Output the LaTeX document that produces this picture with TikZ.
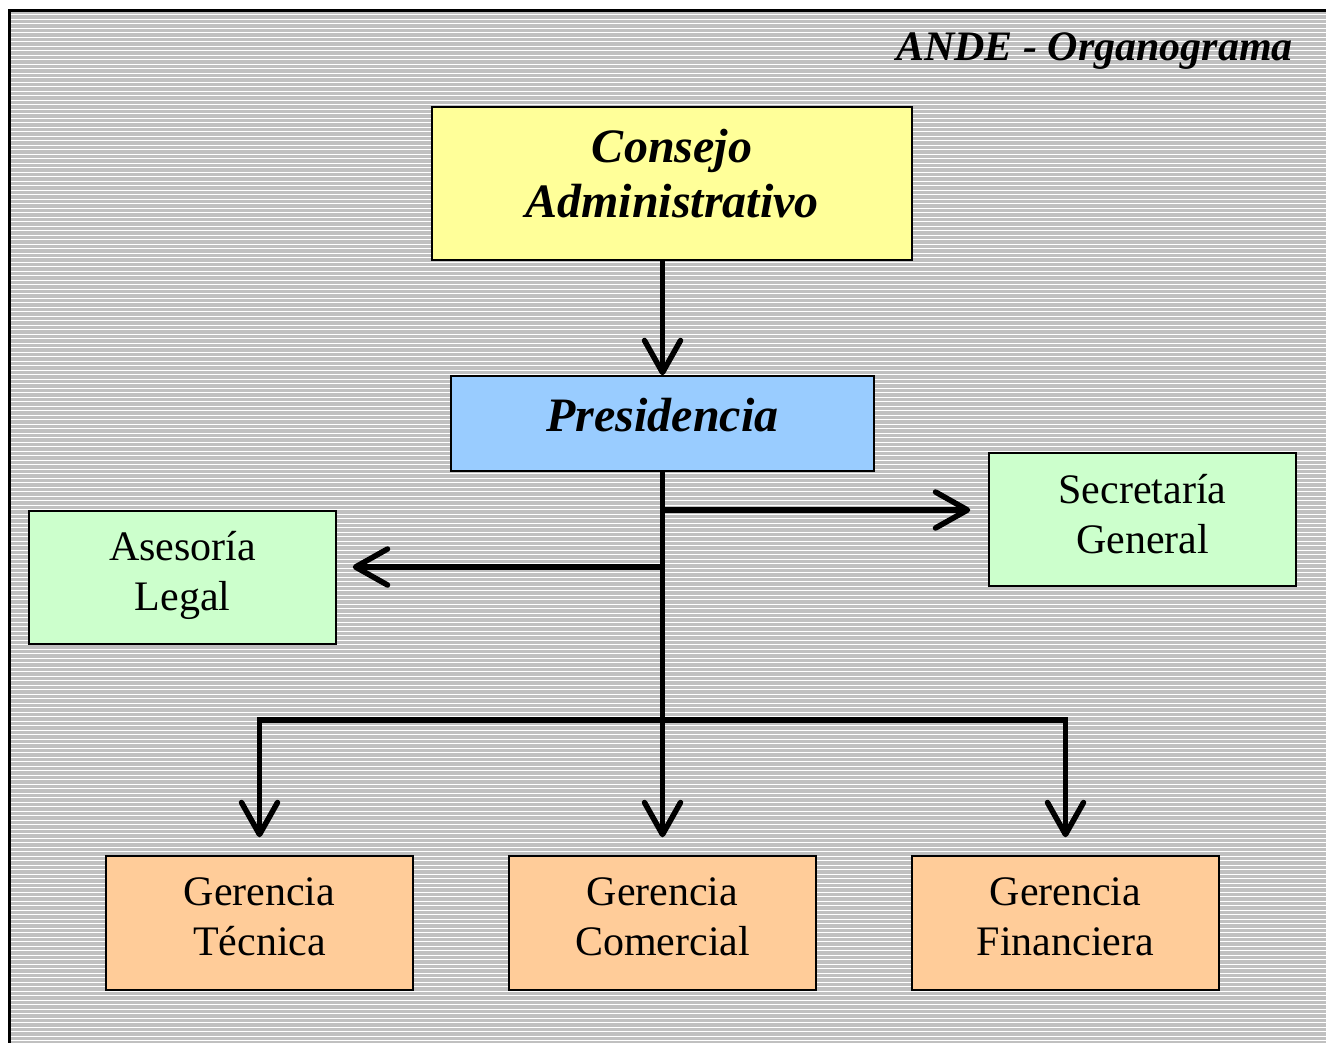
\documentclass[tikz,border=0pt]{standalone}
\usepackage{fontspec}
\setmainfont{Liberation Serif}
\usetikzlibrary{arrows.meta}
\definecolor{bggray}{HTML}{C0C0C0}
\definecolor{boxyellow}{HTML}{FFFF99}
\definecolor{boxblue}{HTML}{99CCFF}
\definecolor{boxgreen}{HTML}{CCFFCC}
\definecolor{boxorange}{HTML}{FFCC99}
\newcommand\dstrut[1]{\rule[-#1]{0pt}{#1}}
\begin{document}
\begin{tikzpicture}[x=1pt,y=-1pt,
  box/.style={draw=black, line width=1.5pt, inner sep=0pt, align=center,
    minimum width=307pt, minimum height=134pt, font=\fontsize{42}{50.5}\selectfont},
  bigbox/.style={box, font=\fontsize{48}{55}\selectfont\bfseries\itshape},
  conn/.style={line width=5.5pt, -{Straight Barb[length=32pt,width=36pt,round]}},
  bar/.style={line width=5.5pt, line cap=rect}]
\useasboundingbox (0,0) rectangle (1326,1043);
\fill[white] (0,0) rectangle (1326,1043);
\begin{scope}
  \clip (11,12) rectangle (1326,1043);
  \fill[bggray] (11,12) rectangle (1326,1043);
  \foreach \k in {0,...,230}
    \draw[white, line width=1.1pt] (11,{14.7+4.5*\k}) -- (1326,{14.7+4.5*\k});
\end{scope}
\draw[line width=3.5pt] (9.5,1043) -- (9.5,10.5) -- (1326,10.5);

\node[font=\fontsize{42}{50}\selectfont\bfseries\itshape, anchor=base east, inner sep=0pt]
  (title) at (1293,61) {ANDE - Organograma};

\node[bigbox, fill=boxyellow, minimum width=480pt, minimum height=153pt]
  (cons) at (672,183.5) {Consejo\\Administrativo\dstrut{21pt}};
\node[bigbox, fill=boxblue, minimum width=423pt, minimum height=95pt]
  (pres) at (662.5,423.5) {Presidencia\dstrut{17pt}};
\node[box, fill=boxgreen, minimum height=133pt] (sec) at (1142.5,519.5) {Secretaría\\General\dstrut{11pt}};
\node[box, fill=boxgreen, minimum height=133pt] (ases) at (182.5,577.5) {Asesoría\\Legal\dstrut{13pt}};
\node[box, fill=boxorange] (ger1) at (259.5,923) {Gerencia\\Técnica\dstrut{12.5pt}};
\node[box, fill=boxorange] (ger2) at (662.5,923) {Gerencia\\Comercial\dstrut{12.5pt}};
\node[box, fill=boxorange] (ger3) at (1065.5,923) {Gerencia\\Financiera\dstrut{12.5pt}};

\coordinate (jsec) at (662.5,510);
\coordinate (jase) at (662.5,567);
\coordinate (jbar) at (662.5,720);

\draw[conn] (cons.south -| pres.north) -- (pres.north);
\draw[conn, shorten >=18pt] (pres.south) -- (ger2.north);
\draw[conn, shorten >=18pt] (jsec) -- (jsec -| sec.west);
\draw[conn, shorten >=16pt] (jase) -- (jase -| ases.east);
\draw[bar] (jbar -| ger1.north) -- (jbar -| ger3.north);
\draw[conn, shorten >=18pt] (jbar -| ger1.north) -- (ger1.north);
\draw[conn, shorten >=18pt] (jbar -| ger3.north) -- (ger3.north);
\end{tikzpicture}
\end{document}
